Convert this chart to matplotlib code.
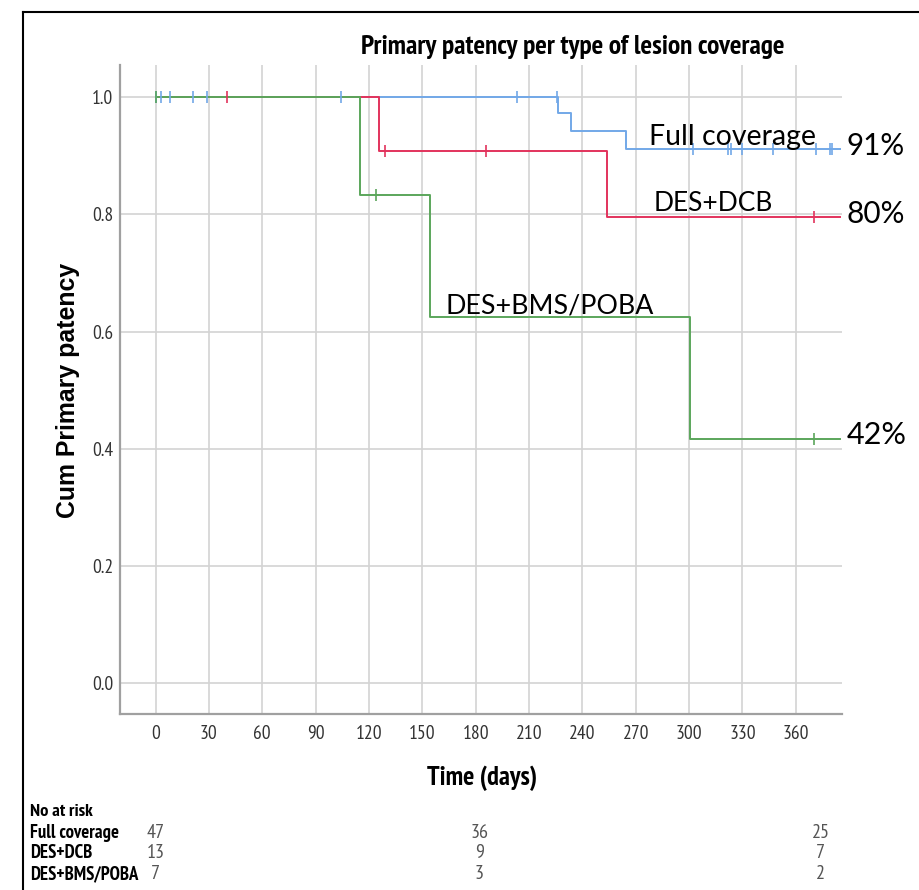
import matplotlib
matplotlib.use("Agg")
import matplotlib.pyplot as plt
from matplotlib import font_manager
from matplotlib.lines import Line2D
import matplotlib.transforms as mtransforms

# ---------------- data ----------------
title = "Primary patency per type of lesion coverage"
groups = ["Full coverage", "DES+DCB", "DES+BMS/POBA"]
end_time = 385

full_times = [0, 226.4, 233.5, 264.4]
full_surv = [1.0, 0.973, 0.942, 0.911]
full_cens = [0, 3, 8, 21, 29, 104, 203, 226, 302, 322, 323.5, 330, 347, 371.5, 379, 380.5]

dcb_times = [0, 125.4, 253.7]
dcb_surv = [1.0, 0.909, 0.795]
dcb_cens = [40, 129, 186, 370]

bms_times = [0, 115, 154.3, 300.6]
bms_surv = [1.0, 0.833, 0.625, 0.417]
bms_cens = [0.5, 124, 370]

final_pct = ["91%", "80%", "42%"]
xticks = list(range(0, 361, 30))
yticks = [0.0, 0.2, 0.4, 0.6, 0.8, 1.0]
risk_times = [0, 182, 374]
risk_full = [47, 36, 25]
risk_dcb = [13, 9, 7]
risk_bms = [7, 3, 2]

# ---------------- fonts ----------------
cands = []
for f in font_manager.fontManager.ttflist:
    n = f.name
    fn = f.fname.lower()
    if ("narrow" in n.lower() or "narrow" in fn) and "sans" in n.lower():
        cands.append((0, f))
    elif ("condensed" in fn or f.stretch in ("condensed", "semi-condensed")) and "sans" in n.lower() and "mono" not in n.lower():
        cands.append((1, f))
cands.sort(key=lambda c: c[0])

def narrow_props(bold=False):
    if cands:
        pri = cands[0][0]
        pool = [f for p, f in cands if p == pri and f.name == cands[0][1].name]
        sel = None
        for f in pool:
            if (f.weight in ("bold", 700)) == bold and f.style == "normal":
                sel = f
                break
        if sel is None:
            sel = pool[0]
        return dict(fontproperties=font_manager.FontProperties(fname=sel.fname))
    return dict(family="Liberation Sans", weight="bold" if bold else "normal")

ARIAL = "Liberation Sans"
CAL = "Lato"

colors = ["#72A8E8", "#E2335C", "#5BA65B"]

W, H = 919, 890
fig = plt.figure(figsize=(W / 100, H / 100), dpi=100)
ax = fig.add_axes([120 / W, 1 - 714 / H, (842 - 120) / W, (714 - 65) / H])

def survival_fn(times, surv):
    def f(t):
        v = surv[0]
        for ti, si in zip(times, surv):
            if t >= ti:
                v = si
        return v
    return f

series = [(full_times, full_surv, full_cens), (dcb_times, dcb_surv, dcb_cens), (bms_times, bms_surv, bms_cens)]
for (t, s, c), col, name in zip(series, colors, groups):
    ax.step(list(t) + [end_time], list(s) + [s[-1]], where="post", color=col, lw=1.4, label=name, zorder=3)
    f = survival_fn(t, s)
    ax.plot(c, [f(x) for x in c], ls="none", marker="|", ms=9, mew=1.2, color=col, zorder=4)

ax.set_xlim(-20, 386)
ax.set_ylim(-0.053, 1.055)
ax.grid(True, color="#D3D3D3", lw=1.2)
ax.set_axisbelow(True)
for sp in ["top", "right"]:
    ax.spines[sp].set_visible(False)
for sp in ["left", "bottom"]:
    ax.spines[sp].set_color("#A0A0A0")
    ax.spines[sp].set_linewidth(1.6)
ax.tick_params(axis="both", length=0, colors="#333333")

np_reg = narrow_props(False)
tick_fp = np_reg.get("fontproperties", font_manager.FontProperties(family="Liberation Sans"))
tick_fp = tick_fp.copy()
tick_fp.set_size(14)
ax.set_xticks(xticks)
ax.set_xticklabels([str(v) for v in xticks], fontproperties=tick_fp)
ax.set_yticks(yticks)
ax.set_yticklabels([f"{v:.1f}" for v in yticks], fontproperties=tick_fp)
ax.tick_params(axis="x", pad=8)
ax.tick_params(axis="y", pad=5)

texts = []  # (text, target px, mode)
t1 = fig.text(573 / W, 1 - 47 / H, title, ha="center", va="center", fontsize=14, **narrow_props(True))
texts.append((t1, 423, "w"))
t2 = fig.text(68.5 / W, 1 - 390 / H, "Cum Primary patency", rotation=90, ha="center", va="center",
              family=ARIAL, weight="bold", fontsize=15)
texts.append((t2, 256, "h"))
t3 = fig.text(482 / W, 1 - 778 / H, "Time (days)", ha="center", va="center", fontsize=15, **narrow_props(True))
texts.append((t3, 110, "w"))

lab_specs = [
    (groups[0], 277.5, 0.918, 167),
    (groups[1], 280.3, 0.806, 120),
    (groups[2], 163.3, 0.631, 208),
    (final_pct[0], 388.8, 0.901, 58),
    (final_pct[1], 388.8, 0.785, 58),
    (final_pct[2], 388.8, 0.408, 60),
]
for s, x, y, w in lab_specs:
    tt = ax.text(x, y, s, ha="left", va="baseline", family=CAL, fontsize=20, color="black", clip_on=False, zorder=5)
    texts.append((tt, w, "w"))

rows_y = [832.7, 853, 874]
t = fig.text(30 / W, 1 - 812 / H, "No at risk", ha="left", va="center", fontsize=11, **narrow_props(True))
texts.append((t, 63, "w"))
row_first = None
for name, yy in zip(groups, rows_y):
    tt = fig.text(30 / W, 1 - yy / H, name, ha="left", va="center", fontsize=11, **narrow_props(True))
    if row_first is None:
        texts.append((tt, 89, "w"))
        row_first = tt
    else:
        texts.append((tt, row_first, "same"))

num_fp = np_reg.get("fontproperties", font_manager.FontProperties(family="Liberation Sans")).copy()
num_fp.set_size(14.5)
trans = mtransforms.blended_transform_factory(ax.transData, fig.transFigure)
for vals, yy in zip([risk_full, risk_dcb, risk_bms], rows_y):
    for tx, v in zip(risk_times, vals):
        fig.text(tx, 1 - yy / H, str(v), transform=trans, ha="center", va="center",
                 color="#555555", fontproperties=num_fp)

fig.add_artist(Line2D([23.3 / W, 1.0], [1 - 12.3 / H, 1 - 12.3 / H], color="black", lw=1.5, transform=fig.transFigure))
fig.add_artist(Line2D([23.3 / W, 23.3 / W], [0, 1 - 12.3 / H], color="black", lw=1.5, transform=fig.transFigure))

fig.canvas.draw()
r = fig.canvas.get_renderer()
for _ in range(2):
    for tt, target, mode in texts:
        if mode == "same":
            tt.set_fontsize(target.get_fontsize())
            continue
        bb = tt.get_window_extent(renderer=r)
        size = bb.height if mode == "h" else bb.width
        if size > 0:
            tt.set_fontsize(tt.get_fontsize() * target / size)
    fig.canvas.draw()

fig.savefig("out.png", dpi=100)
